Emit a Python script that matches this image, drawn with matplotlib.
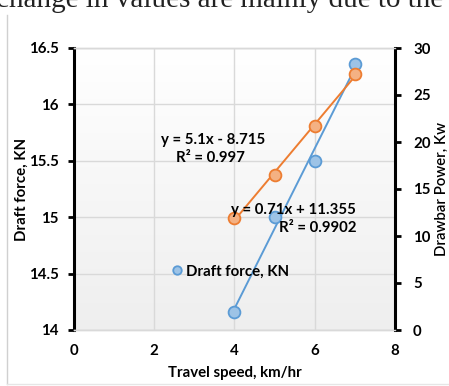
import numpy as np
import matplotlib
matplotlib.use("Agg")
import matplotlib.pyplot as plt
from matplotlib.lines import Line2D

plt.rcParams['font.family'] = ['Lato', 'DejaVu Sans']

# Data
speed = [4, 5, 6, 7]                       # km/hr
draft_force = [14.16, 15.0, 15.5, 16.36]   # KN
drawbar_power = [11.93, 16.5, 21.7, 27.2]  # Kw

x_ticks = [0, 2, 4, 6, 8]
left_ticks = [14, 14.5, 15, 15.5, 16, 16.5]
left_labels = ['14', '14.5', '15', '15.5', '16', '16.5']
right_ticks = [0, 5, 10, 15, 20, 25, 30]

blue, blue_fill = '#5b9bd5', '#9dc3e6'
orange, orange_fill = '#ed7d31', '#f4b183'
grid_c = '#d9d9d9'
fs = 10.8

fig = plt.figure(figsize=(4.49, 3.86), dpi=100)
ax = fig.add_axes([74 / 449, 1 - 330 / 386, (395 - 74) / 449, (330 - 48) / 386])
ax2 = ax.twinx()

# Soft vertical gradient in the plot area
grad = np.linspace(1.0, 0.935, 256).reshape(-1, 1)
ax.imshow(np.dstack([grad, grad, grad]), extent=[0, 1, 0, 1], transform=ax.transAxes,
          aspect='auto', zorder=0, interpolation='bicubic')

ax.set_xlim(0, 8)
ax.set_ylim(14, 16.5)
ax2.set_ylim(0, 30)

ax.set_xticks(x_ticks)
ax.set_yticks(left_ticks)
ax.set_yticklabels(left_labels)
ax2.set_yticks(right_ticks)

ax.grid(True, color=grid_c, linewidth=1, zorder=1)
ax.set_axisbelow(True)

# Trendlines
xs = np.array([speed[0], speed[-1]])
b1 = np.polyfit(speed, draft_force, 1)
b2 = np.polyfit(speed, drawbar_power, 1)
ax.plot(xs, np.polyval(b1, xs), color=blue, linewidth=1.4, zorder=3)
ax2.plot(xs, np.polyval(b2, xs), color=orange, linewidth=1.4, zorder=3)

# Points
ms = 8.5
h1, = ax.plot(speed, draft_force, 'o', ms=ms, mfc=blue_fill, mec=blue, mew=1.3,
              zorder=4, label='Draft force, KN')
ax2.plot(speed, drawbar_power, 'o', ms=ms, mfc=orange_fill, mec=orange, mew=1.3,
         zorder=4, label='Drawbar Power, Kw')

# Spines and ticks
for a in (ax, ax2):
    a.spines['top'].set_color(grid_c)
    a.spines['bottom'].set_color(grid_c)
    a.spines['top'].set_linewidth(1)
    a.spines['bottom'].set_linewidth(1)
ax.spines['left'].set_linewidth(2.2)
ax.spines['left'].set_color('black')
ax2.spines['right'].set_linewidth(2.2)
ax2.spines['right'].set_color('black')
ax2.spines['left'].set_visible(False)
ax.spines['right'].set_visible(False)

ax.tick_params(axis='y', direction='out', length=4, width=2, pad=7)
ax2.tick_params(axis='y', direction='out', length=4, width=2, pad=9)
ax.tick_params(axis='x', length=0, pad=10)
for lbl in ax.get_xticklabels() + ax.get_yticklabels() + ax2.get_yticklabels():
    lbl.set_fontsize(fs)
    lbl.set_fontweight('bold')

ax.set_xlabel('Travel speed, km/hr', fontsize=fs, fontweight='bold', labelpad=6)
ax.set_ylabel('Draft force, KN', fontsize=fs, fontweight='bold', labelpad=0)
ax2.set_ylabel('Drawbar Power, Kw', fontsize=fs, fontweight='semibold', labelpad=3)

# Trendline equations (pixel positions, origin top-left)
eq_texts = [
    (213, 140, 'y = 5.1x - 8.715'),
    (210, 158, 'R² = 0.997'),
    (293, 210, 'y = 0.71x + 11.355'),
    (318, 228, 'R² = 0.9902'),
]
for px, py, s in eq_texts:
    fig.text(px / 449, 1 - py / 386, s, fontsize=fs, fontweight='bold',
             ha='center', va='center')

leg = ax.legend(handles=[h1], loc='center left', bbox_to_anchor=(0.278, 0.208),
                frameon=False, handletextpad=0.15, handlelength=0.9, markerscale=0.72,
                prop=dict(size=fs, weight='bold'), borderpad=0)

# Page text above the chart and chart frame
fig.text(-0.01, 1 - 7 / 386, 'change in values are mainly due to the',
         family='Liberation Serif', fontsize=21, ha='left', va='baseline', color='#222222')
fig.add_artist(Line2D([7 / 449, 7 / 449], [1 - 15 / 386, 1 - 384 / 386],
                      transform=fig.transFigure, color='#d0d0d0', linewidth=1))
fig.add_artist(Line2D([7 / 449, 1], [1 - 384 / 386, 1 - 384 / 386],
                      transform=fig.transFigure, color='#e6e6e6', linewidth=1))

fig.savefig('out.png', dpi=100)
